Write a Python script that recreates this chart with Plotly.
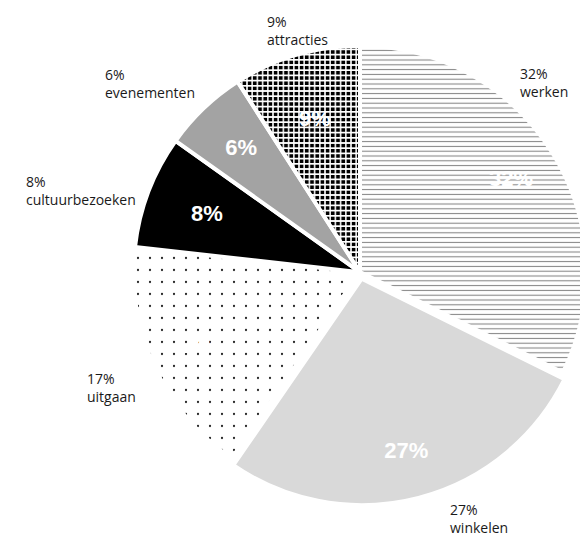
import plotly.graph_objects as go

# Share of visits per activity (percent), clockwise from 12 o'clock
categories = ["werken", "winkelen", "uitgaan", "cultuurbezoeken", "evenementen", "attracties"]
values = [32, 27, 17, 8, 6, 9]

# Fill styles per slice
fill_colors = ["#ffffff", "#d9d9d9", "#ffffff", "#000000", "#a3a3a3", "#000000"]
pattern_shapes = ["-", "", ".", "", "", "+"]
pattern_fg = ["#858585", "#d9d9d9", "#2a2a2a", "#000000", "#a3a3a3", "#ffffff"]
pattern_size = [4.8, 8, 12, 8, 8, 5.2]
pattern_solidity = [0.22, 0.3, 0.028, 0.3, 0.3, 0.5]
pull = [0, 0.03, 0, 0, 0, 0]

# Wide slices carry their value label in an outer ring, narrow ones on an inner pie
label_on_ring = [True, True, True, False, False, False]

# Outside label anchors (pixels from top-left of the figure)
label_x = [518, 448, 85, 24, 103, 265]
label_y = [62, 498, 367, 170, 63, 10]

W, H = 600, 541
pie_domain = dict(x=[0.2, 1.0], y=[0.066, 0.928])
inner_domain = dict(x=[0.2583, 0.9417], y=[0.1183, 0.8762])

value_font = dict(family="Liberation Sans, Arial, sans-serif", size=22,
                  color="white", weight="bold")
clear = ["rgba(0,0,0,0)"] * len(values)

fig = go.Figure()

# Filled slices
fig.add_trace(go.Pie(
    labels=categories,
    values=values,
    sort=False,
    direction="clockwise",
    rotation=0,
    pull=pull,
    textinfo="none",
    marker=dict(
        colors=fill_colors,
        line=dict(color="white", width=4),
        pattern=dict(
            shape=pattern_shapes,
            fgcolor=pattern_fg,
            bgcolor=fill_colors,
            size=pattern_size,
            solidity=pattern_solidity,
            fillmode="replace",
        ),
    ),
    domain=pie_domain,
    hoverinfo="skip",
    showlegend=False,
))

# Transparent ring: value labels of the wide slices, near the rim
fig.add_trace(go.Pie(
    labels=categories,
    values=values,
    sort=False,
    direction="clockwise",
    rotation=0,
    pull=pull,
    hole=0.57,
    texttemplate=["%{value}%" if on else "" for on in label_on_ring],
    textposition="inside",
    insidetextorientation="horizontal",
    textfont=value_font,
    marker=dict(colors=clear, line=dict(color="rgba(0,0,0,0)", width=0)),
    domain=pie_domain,
    hoverinfo="skip",
    showlegend=False,
))

# Transparent smaller pie: value labels of the narrow slices
fig.add_trace(go.Pie(
    labels=categories,
    values=values,
    sort=False,
    direction="clockwise",
    rotation=0,
    texttemplate=["" if on else "%{value}%" for on in label_on_ring],
    textposition="inside",
    insidetextorientation="horizontal",
    textfont=value_font,
    marker=dict(colors=clear, line=dict(color="rgba(0,0,0,0)", width=0)),
    domain=inner_domain,
    hoverinfo="skip",
    showlegend=False,
))

for cat, val, lx, ly in zip(categories, values, label_x, label_y):
    fig.add_annotation(
        x=lx / W, y=1 - ly / H, xref="paper", yref="paper",
        xanchor="left", yanchor="top", align="left",
        text=f"{val}%<br>{cat}", showarrow=False,
        font=dict(family="Open Sans, sans-serif", size=14, color="#1a1a1a"),
    )

fig.update_layout(
    width=W, height=H, autosize=False,
    margin=dict(l=0, r=0, t=0, b=0),
    paper_bgcolor="white", plot_bgcolor="white",
)

fig.write_html(
    "out.html",
    post_script="document.body.style.margin='0';document.body.style.overflow='hidden';"
                "document.documentElement.style.overflow='hidden';",
)
